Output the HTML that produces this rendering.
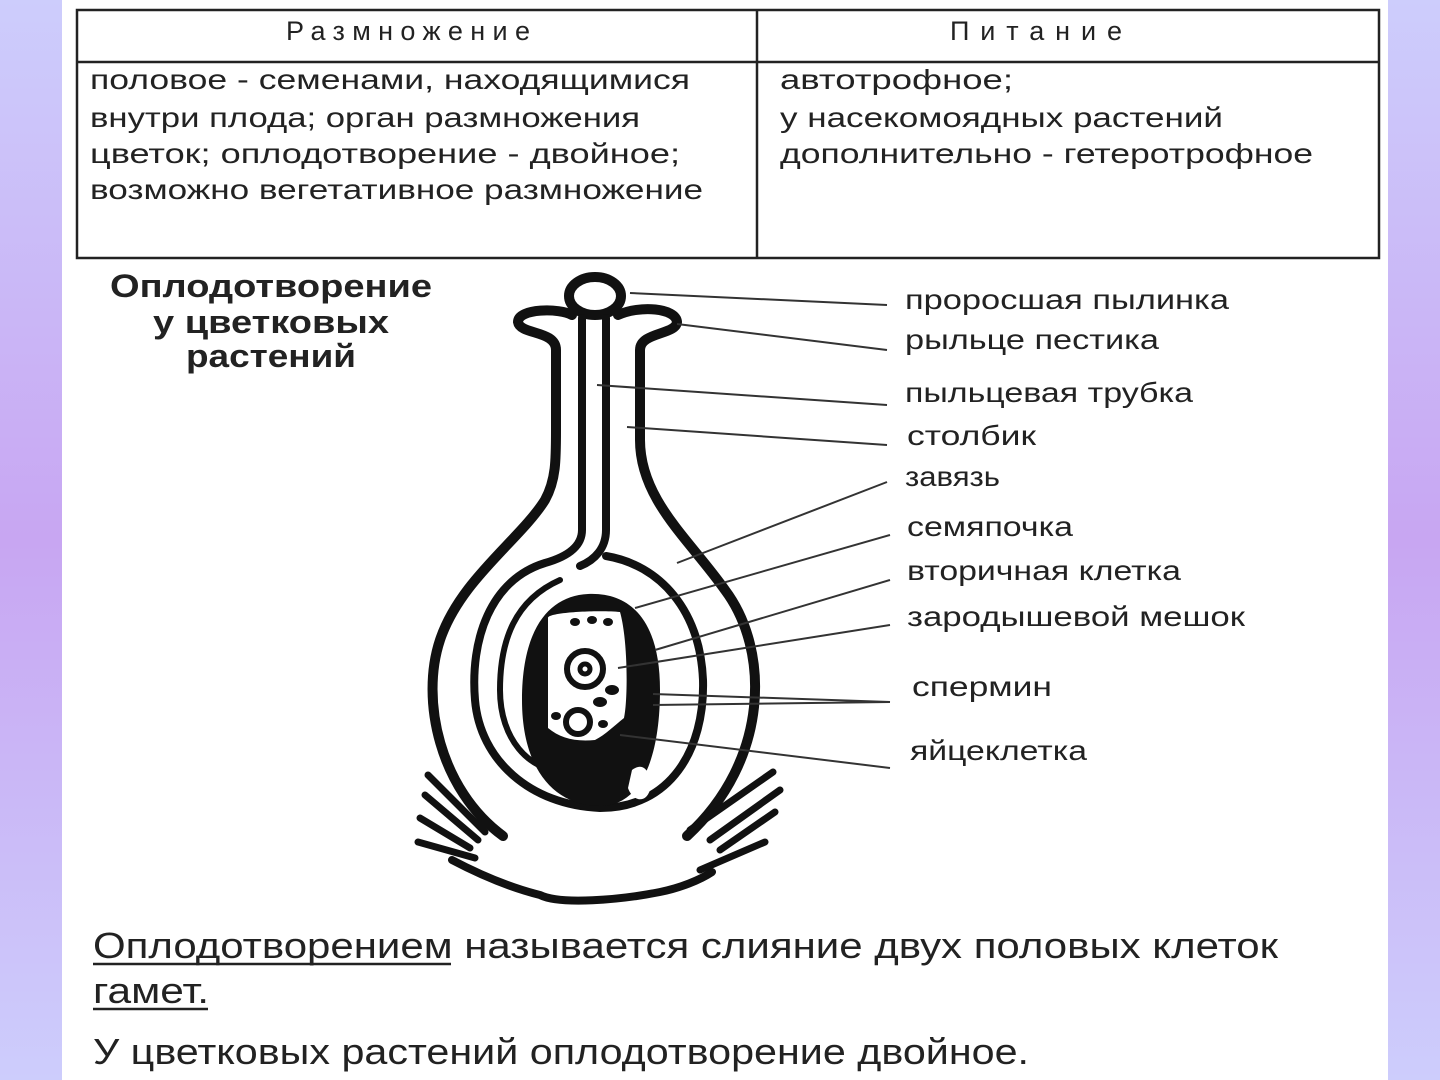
<!DOCTYPE html>
<html><head><meta charset="utf-8"><style>
html,body{margin:0;padding:0;width:1440px;height:1080px;overflow:hidden}
body{background:linear-gradient(#cdcdfc,#c8a6f2 50%,#cdcdfc)}
svg{position:absolute;left:0;top:0}
text{font-family:"Liberation Sans",sans-serif;fill:#222}
</style></head><body>
<svg width="1440" height="1080" viewBox="0 0 1440 1080">
<rect x="62" y="0" width="1326" height="1080" fill="#fff"/>
<g stroke="#222" stroke-width="2.5" fill="none">
<rect x="77" y="10" width="1302" height="248"/>
<line x1="77" y1="62" x2="1379" y2="62"/>
<line x1="757" y1="10" x2="757" y2="258"/>
</g>
<g font-size="27" fill="#333">
<text x="286" y="40" textLength="244" lengthAdjust="spacing">Размножение</text>
<text x="950" y="40" textLength="172" lengthAdjust="spacing">Питание</text>
</g>
<g font-size="28">
<text x="90" y="89" textLength="600" lengthAdjust="spacingAndGlyphs">половое - семенами,  находящимися</text>
<text x="90" y="127" textLength="550" lengthAdjust="spacingAndGlyphs">внутри плода; орган размножения</text>
<text x="90" y="163" textLength="590" lengthAdjust="spacingAndGlyphs">цветок; оплодотворение - двойное;</text>
<text x="90" y="199" textLength="613" lengthAdjust="spacingAndGlyphs">возможно вегетативное  размножение</text>
<text x="780" y="89" textLength="233" lengthAdjust="spacingAndGlyphs">автотрофное;</text>
<text x="780" y="127" textLength="443" lengthAdjust="spacingAndGlyphs">у насекомоядных  растений</text>
<text x="780" y="163" textLength="533" lengthAdjust="spacingAndGlyphs">дополнительно - гетеротрофное</text>
</g>
<g font-size="32" font-weight="bold" fill="#111">
<text x="110" y="297" textLength="322" lengthAdjust="spacingAndGlyphs">Оплодотворение</text>
<text x="153" y="333" textLength="236" lengthAdjust="spacingAndGlyphs">у цветковых</text>
<text x="186" y="367" textLength="170" lengthAdjust="spacingAndGlyphs">растений</text>
</g>
<g stroke="#111" stroke-width="10" fill="none" stroke-linecap="round" stroke-linejoin="round">
<path d="M503 836 C440 790 420 700 440 640 C460 580 520 540 545 500 C556 480 556 460 556 430 L556 350 C556 330 520 335 518 322 C518 308 560 308 572 315"/>
<path d="M618 315 C640 305 676 308 677 322 C676 335 640 332 640 350 L640 440 C640 500 690 540 725 590 C770 650 770 760 687 836"/>
<ellipse cx="595" cy="296" rx="26" ry="19"/>
<path d="M582 318 L582 530 C582 545 570 556 545 563 C490 580 470 640 475 700 C480 760 530 805 600 808 C670 808 705 750 703 680 C700 610 660 565 606 556" stroke-width="8"/>
<path d="M606 318 L606 530 C606 548 595 560 580 566" stroke-width="8"/>
<path d="M560 580 C515 600 500 640 500 690 C500 740 530 770 560 770" stroke-width="6"/>
<path d="M452 860 C490 880 520 890 540 895 C560 905 620 900 660 892 C680 888 700 880 712 872" stroke-width="8"/>
<g stroke-width="7">
<line x1="428" y1="775" x2="485" y2="832"/><line x1="425" y1="795" x2="478" y2="840"/>
<line x1="420" y1="818" x2="470" y2="848"/><line x1="418" y1="842" x2="475" y2="858"/>
<line x1="773" y1="772" x2="690" y2="830"/><line x1="780" y1="790" x2="710" y2="840"/>
<line x1="775" y1="812" x2="720" y2="850"/><line x1="765" y1="842" x2="700" y2="870"/>
</g>
</g>
<path d="M588 594 C630 592 660 620 660 690 C660 760 640 806 600 806 C555 806 522 770 522 700 C522 630 548 596 588 594 Z M548 618 C548 612 600 610 620 612 C628 640 628 700 624 718 C615 725 605 735 595 740 C575 742 560 738 548 728 Z" fill="#111" fill-rule="evenodd"/>
<path d="M632 770 C645 760 652 775 650 790 C645 805 632 800 628 788 Z" fill="#fff"/>
<g fill="#fff" stroke="#111">
<circle cx="585" cy="669" r="18" stroke-width="6"/>
<circle cx="585" cy="669" r="5" stroke-width="5"/>
<circle cx="578" cy="722" r="12" stroke-width="6"/>
</g>
<g fill="#111">
<ellipse cx="612" cy="690" rx="7" ry="5"/><ellipse cx="600" cy="702" rx="7" ry="5"/>
<ellipse cx="575" cy="622" rx="5" ry="4"/><ellipse cx="592" cy="620" rx="5" ry="4"/><ellipse cx="608" cy="622" rx="5" ry="4"/>
<ellipse cx="556" cy="716" rx="5" ry="4"/><ellipse cx="603" cy="724" rx="5" ry="4"/>
</g>
<g stroke="#333" stroke-width="2" fill="none">
<line x1="630" y1="293" x2="887" y2="305"/>
<line x1="677" y1="324" x2="887" y2="350"/>
<line x1="597" y1="385" x2="887" y2="405"/>
<line x1="627" y1="427" x2="887" y2="445"/>
<line x1="677" y1="563" x2="887" y2="482"/>
<line x1="635" y1="608" x2="890" y2="535"/>
<line x1="655" y1="650" x2="890" y2="580"/>
<line x1="618" y1="668" x2="890" y2="625"/>
<line x1="653" y1="694" x2="890" y2="702"/>
<line x1="653" y1="705" x2="890" y2="702"/>
<line x1="620" y1="735" x2="890" y2="768"/>
</g>
<g font-size="28" fill="#333">
<text x="905" y="309" textLength="324" lengthAdjust="spacingAndGlyphs">проросшая пылинка</text>
<text x="905" y="349" textLength="254" lengthAdjust="spacingAndGlyphs">рыльце пестика</text>
<text x="905" y="402" textLength="288" lengthAdjust="spacingAndGlyphs">пыльцевая трубка</text>
<text x="907" y="445" textLength="129" lengthAdjust="spacingAndGlyphs">столбик</text>
<text x="905" y="486" textLength="95" lengthAdjust="spacingAndGlyphs">завязь</text>
<text x="907" y="536" textLength="166" lengthAdjust="spacingAndGlyphs">семяпочка</text>
<text x="907" y="580" textLength="274" lengthAdjust="spacingAndGlyphs">вторичная клетка</text>
<text x="907" y="626" textLength="338" lengthAdjust="spacingAndGlyphs">зародышевой  мешок</text>
<text x="912" y="696" textLength="140" lengthAdjust="spacingAndGlyphs">спермин</text>
<text x="910" y="760" textLength="177" lengthAdjust="spacingAndGlyphs">яйцеклетка</text>
</g>
<g font-size="36" fill="#222">
<text x="93" y="958" textLength="1185" lengthAdjust="spacingAndGlyphs">Оплодотворением называется  слияние двух половых клеток</text>
<text x="93" y="1003" textLength="116" lengthAdjust="spacingAndGlyphs">гамет.</text>
<text x="93" y="1064" textLength="936" lengthAdjust="spacingAndGlyphs">У цветковых растений оплодотворение двойное.</text>
</g>
<g stroke="#222" stroke-width="2.5">
<line x1="93" y1="964" x2="451" y2="964"/>
<line x1="93" y1="1009" x2="208" y2="1009"/>
</g>
</svg>
</body></html>
